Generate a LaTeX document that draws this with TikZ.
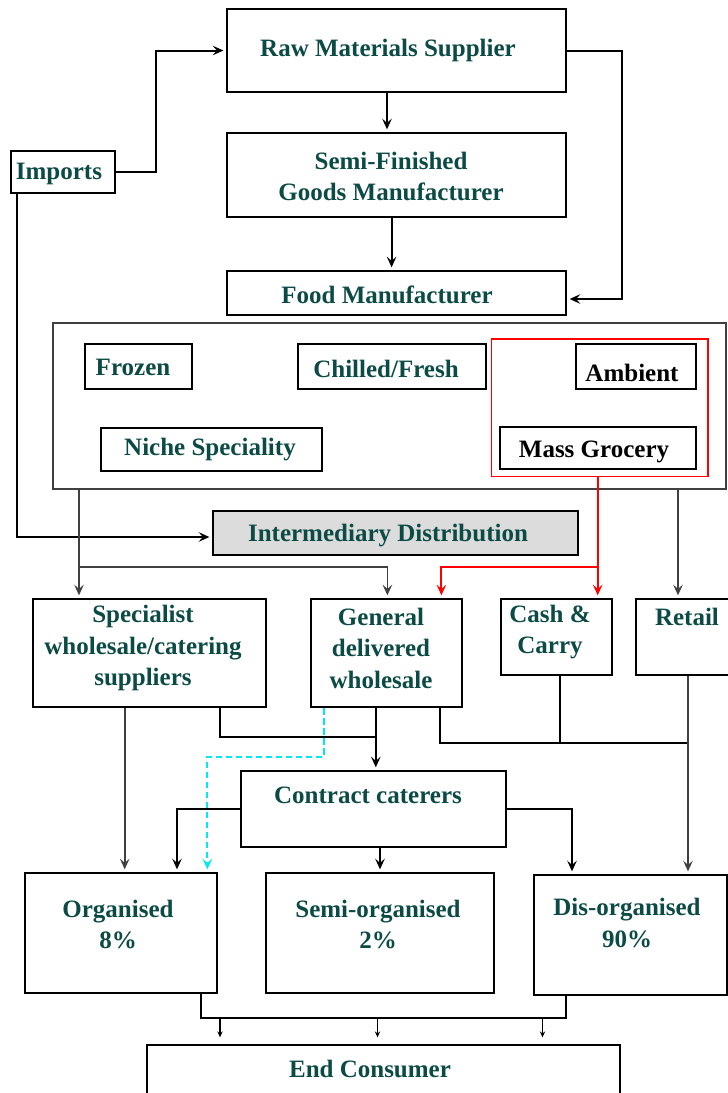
\documentclass[tikz,border=0pt]{standalone}
\usepackage{fontspec}
\setmainfont{Liberation Serif}
\usetikzlibrary{arrows.meta}
\definecolor{txt}{HTML}{0C4B45}
\definecolor{gline}{HTML}{404040}
\definecolor{cy}{HTML}{00E8F8}
\definecolor{ibg}{HTML}{DCDCDC}
\definecolor{rd}{HTML}{FF0000}
\begin{document}
\begin{tikzpicture}[x=0.75pt,y=-0.75pt,
  bx/.style 2 args={draw=black, line width=1.5pt, minimum width=#1*0.75pt, minimum height=#2*0.75pt, inner sep=0pt},
  lbl/.style={text=txt, font=\fontsize{18.75pt}{23.6pt}\selectfont\bfseries, align=center, inner sep=0pt},
  blk/.style={lbl, text=black},
  conn/.style={draw=black, line width=1.5pt},
  gconn/.style={draw=gline, line width=1.25pt},
  arr/.style={-{Stealth[length=8pt,width=7.2pt,inset=3.2pt]}, shorten >=2pt},
  sarr/.style={-{Stealth[length=4.5pt,width=4pt,inset=1.6pt]}, line width=1pt}
]
\useasboundingbox (0,0) rectangle (728,1093);
\clip (0,0) rectangle (728,1093);

% ---- boxes ----
\node[bx={339}{83}] (raw) at (396.5,50.5) {};
\node[bx={339}{84}] (semi) at (396.5,175) {};
\node[bx={339}{44}] (food) at (396.5,293) {};
\node[bx={104}{42}] (imp) at (63,172) {};
\node[bx={672.5}{166}, draw=gline] (cont) at (389.25,406) {};
\node[bx={107}{45}] (frozen) at (138,366.5) {};
\node[bx={188.3}{45}] (chilled) at (391.85,366.5) {};
\node[bx={216.4}{137.8}, draw=rd, line width=1.3pt] (redbox) at (599.8,407.6) {};
\node[bx={120.2}{45}] (ambient) at (635.9,366.5) {};
\node[bx={221.5}{43}] (niche) at (211.25,449.5) {};
\node[bx={196.5}{42.3}] (mass) at (597.75,447.85) {};
\node[bx={365}{44.3}, fill=ibg] (inter) at (395.5,532.85) {};
\node[bx={233}{108}] (spec) at (149.1,653) {};
\node[bx={151}{108}] (gen) at (386.5,653) {};
\node[bx={111}{76}] (cash) at (556.5,637) {};
\node[bx={104}{76}] (retail) at (688,637) {};
\node[bx={265}{76}] (cc) at (373.5,809) {};
\node[bx={192}{120}] (org) at (121,933) {};
\node[bx={227.9}{120}] (semio) at (379.55,933) {};
\node[bx={193}{120}] (dis) at (630,935) {};
\node[bx={473}{65}] (endc) at (383.5,1077.5) {};

% ---- labels ----
\node[lbl] (rawt) at (388,50.5) {Raw Materials Supplier};
\node[lbl] (semit) at (391,176.5) {Semi-Finished\\Goods Manufacturer};
\node[lbl] (foodt) at (387,295) {Food Manufacturer};
\node[lbl] (impt) at (59,173.5) {Imports};
\node[lbl] (frozent) at (133,367) {Frozen};
\node[lbl] (chilledt) at (386,369) {Chilled/Fresh};
\node[blk] (ambientt) at (632,373) {Ambient};
\node[lbl] (nicht) at (210,449.5) {Niche Speciality};
\node[blk] (masst) at (594,451.5) {Mass Grocery};
\node[lbl] (intert) at (388,535.5) {Intermediary Distribution};
\node[lbl] (spect) at (143,648) {Specialist\\wholesale/catering\\suppliers};
\node[lbl] (gent) at (381,648) {General\\delivered\\wholesale};
\node[lbl] (casht) at (550,632) {Cash \&\\Carry};
\node[lbl] (retailt) at (687,617) {Retail};
\node[lbl] (cct) at (368,795) {Contract caterers};
\node[lbl] (orgt) at (118,924.5) {Organised\\8\%};
\node[lbl] (semiot) at (378,924.5) {Semi-organised\\2\%};
\node[lbl] (dist) at (627,923) {Dis-organised\\90\%};
\node[lbl] (endt) at (370,1068.5) {End Consumer};

% ---- helper coordinates ----
\coordinate (xa) at (387,0);
\coordinate (xb) at (391.6,0);
\coordinate (rf) at (622,299);
\coordinate (ii) at (17,537);
\coordinate (b1) at (79,567);
\coordinate (b2) at (387.4,567);
\coordinate (r1) at (597.7,567);
\coordinate (r2) at (441.4,567);
\coordinate (xg) at (678,0);
\coordinate (xs1) at (124.7,0);
\coordinate (s1) at (219.5,736.7);
\coordinate (s2) at (375.8,736.7);
\coordinate (g2) at (439.5,743);
\coordinate (g3) at (688,743);
\coordinate (xc) at (560,0);
\coordinate (c1) at (323.7,756.7);
\coordinate (c2) at (207.4,756.7);
\coordinate (xl) at (177,0);
\coordinate (xm) at (380,0);
\coordinate (xr) at (572,0);
\coordinate (e1) at (201.4,1018.3);
\coordinate (e2) at (566,1018.3);
\coordinate (d1) at (220,1018.3);
\coordinate (d2) at (377.5,1018.3);
\coordinate (d3) at (542.5,1018.3);

% ---- connectors ----
\draw[conn,arr] (raw.south -| xa) -- (semi.north -| xa);
\draw[conn,arr] (semi.south -| xb) -- (food.north -| xb);
\draw[conn,arr] (imp.east) -- ++(40,0) |- (raw.west);
\draw[conn,arr] (raw.east) -| (rf) -- (rf -| food.east);
\draw[conn,arr] (imp.south -| ii) -- (ii) -- (ii -| inter.west);

\draw[gconn,arr] (cont.south -| b1) -- (spec.north -| b1);
\draw[gconn,arr] (b1) -- (b2) -- (gen.north -| b2);
\draw[draw=rd,line width=1.5pt,arr] (redbox.south -| r1) -- (cash.north -| r1);
\draw[draw=rd,line width=1.5pt,arr] (r1) -- (r2) -- (gen.north -| r2);
\draw[gconn,arr] (cont.south -| xg) -- (retail.north -| xg);

\draw[gconn,arr] (spec.south -| xs1) -- (org.north -| xs1);
\draw[conn] (spec.south -| s1) -- (s1) -- (s2);
\draw[conn,arr] (gen.south -| s2) -- (cc.north -| s2);
\draw[conn] (gen.south -| g2) -- (g2) -- (g3);
\draw[conn] (cash.south -| xc) -- (g2 -| xc);
\draw[gconn,arr] (retail.south -| g3) -- (dis.north -| g3);
\draw[draw=cy,line width=1.5pt,dash pattern=on 5pt off 2.5pt,arr] (gen.south -| c1) -- (c1) -- (c2) -- (org.north -| c2);

\draw[conn,arr] (cc.west) -| (org.north -| xl);
\draw[conn,arr] (cc.south -| xm) -- (semio.north -| xm);
\draw[conn,arr] (cc.east) -| (dis.north -| xr);

\draw[conn] (org.south -| e1) -- (e1) -- (e2) -- (dis.south -| e2);
\draw[sarr,shorten >=5pt] (d1) -- (endc.north -| d1);
\draw[sarr,shorten >=5pt] (d2) -- (endc.north -| d2);
\draw[sarr,shorten >=5pt] (d3) -- (endc.north -| d3);
\end{tikzpicture}
\end{document}
